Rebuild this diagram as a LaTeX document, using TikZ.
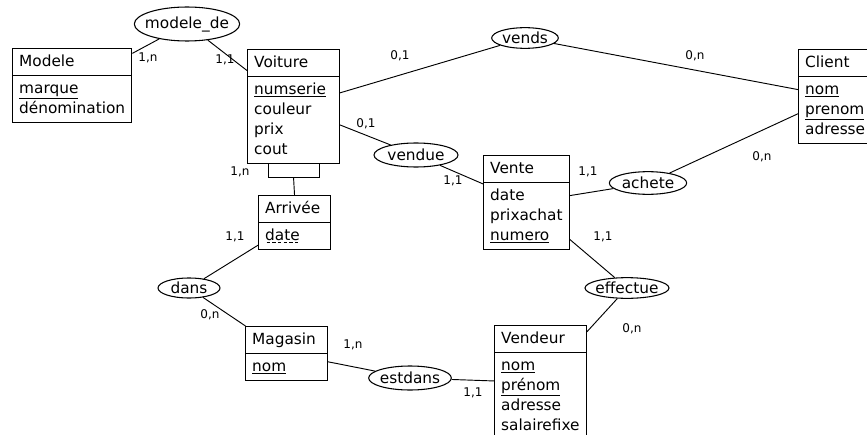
\documentclass[tikz,border=0pt]{standalone}
\usepackage{fontspec}
\setmainfont{DejaVu Sans}
\usetikzlibrary{shapes.multipart,shapes.geometric,calc}

% soulignement en pointilles
\newcommand\pointille[1]{\leavevmode\setbox0=\hbox{#1}\rlap{\hbox to \wd0{\xleaders\hbox to 4pt{\hss\rule[-2.2pt]{2.5pt}{0.5pt}\hss}\hfill}}\box0}

\tikzset{
  entite/.style={draw, line width=0.8pt, rectangle split, rectangle split parts=2,
    rectangle split part align=left, align=left, anchor=north west,
    inner xsep=5pt, inner ysep=2.25pt, font=\fontsize{11.5}{15}\selectfont},
  assoc/.style={draw, line width=0.8pt, ellipse, inner sep=-5pt, font=\fontsize{11.5}{14}\selectfont},
  card/.style={inner sep=0pt, font=\fontsize{9}{10}\selectfont},
  lien/.style={line width=0.7pt}
}

\begin{document}
\begin{tikzpicture}[x=0.75pt,y=0.75pt,yscale=-1]
\useasboundingbox (0,0) rectangle (867,435);
\clip (0,0) rectangle (867,435);

%Entites
\node[entite, minimum width=88.5pt] (modele) at (12,48) {\strut Modele\nodepart{two}\strut\underline{marque}\\dénomination\strut};
\node[entite, minimum width=69pt] (voiture) at (247,49) {\strut Voiture\nodepart{two}\strut\underline{numserie}\\couleur\\prix\\cout\strut};
\node[entite] (client) at (798,49) {\strut Client\nodepart{two}\strut\underline{nom}\\\underline{prenom}\\adresse\strut};
\node[entite, minimum width=64pt] (vente) at (483,155) {\strut Vente\nodepart{two}\strut date\\prixachat\\\underline{numero}\strut};
\node[entite, minimum width=54pt] (arrivee) at (258,195) {\strut Arrivée\nodepart{two}\strut\pointille{date}};
\node[entite, minimum width=61.5pt] (magasin) at (245,326) {\strut Magasin\nodepart{two}\strut\underline{nom}};
\node[entite, minimum width=68pt] (vendeur) at (494,325) {\strut Vendeur\nodepart{two}\strut\underline{nom}\\\underline{prénom}\\adresse\\salairefixe\strut};

%Associations
\node[assoc, minimum width=79pt, minimum height=25.5pt] (modele_de) at (187,24) {modele\_de};
\node[assoc, minimum width=50pt, minimum height=15.5pt] (vends) at (525,38) {vends};
\node[assoc, minimum width=63pt, minimum height=18pt] (vendue) at (416,155) {vendue};
\node[assoc, minimum width=58pt, minimum height=17pt] (achete) at (648,183) {achete};
\node[assoc, minimum width=46.5pt, minimum height=15pt] (dans) at (189,288) {dans};
\node[assoc, minimum width=63pt, minimum height=15.5pt] (effectue) at (627,288) {effectue};
\node[assoc, minimum width=62pt, minimum height=18pt] (estdans) at (410,378) {estdans};

%Liens
\draw[lien] (modele_de) -- (modele);
\draw[lien] (modele_de) -- (voiture);
\draw[lien] (vends) -- (voiture);
\draw[lien] (vends) -- (client);
\draw[lien] (vendue) -- (voiture);
\draw[lien] (vendue) -- (vente);
\draw[lien] (achete) -- (vente);
\draw[lien] (achete) -- (client);
\draw[lien] (effectue) -- (vente);
\draw[lien] (effectue) -- (vendeur);
\draw[lien] (estdans) -- (vendeur);
\draw[lien] (estdans) -- (magasin);
\draw[lien] (dans) -- (magasin);
\draw[lien] (dans) -- (arrivee);

%Entite faible sous Voiture
\coordinate (pied) at ($(voiture.south)+(0,13)$);
\draw[lien] ($(voiture.south)+(-25.5,0)$) -- ++(0,13) -- ++(51,0) -- ++(0,-13);
\draw[lien] (pied) -- (arrivee.north);

%Cardinalites
\node[card] (c1) at (148,58) {1,n};
\node[card] (c2) at (225,60) {1,1};
\node[card] (c3) at (400,56) {0,1};
\node[card] (c4) at (695,56) {0,n};
\node[card] (c5) at (366,124) {0,1};
\node[card] (c6) at (453,181) {1,1};
\node[card] (c7) at (588,172) {1,1};
\node[card] (c8) at (762,157) {0,n};
\node[card] (c9) at (240,172) {1,n};
\node[card] (c10) at (235,237) {1,1};
\node[card] (c11) at (210,315) {0,n};
\node[card] (c12) at (603,237) {1,1};
\node[card] (c13) at (632,329) {0,n};
\node[card] (c14) at (353,345) {1,n};
\node[card] (c15) at (473,393) {1,1};
\end{tikzpicture}
\end{document}
